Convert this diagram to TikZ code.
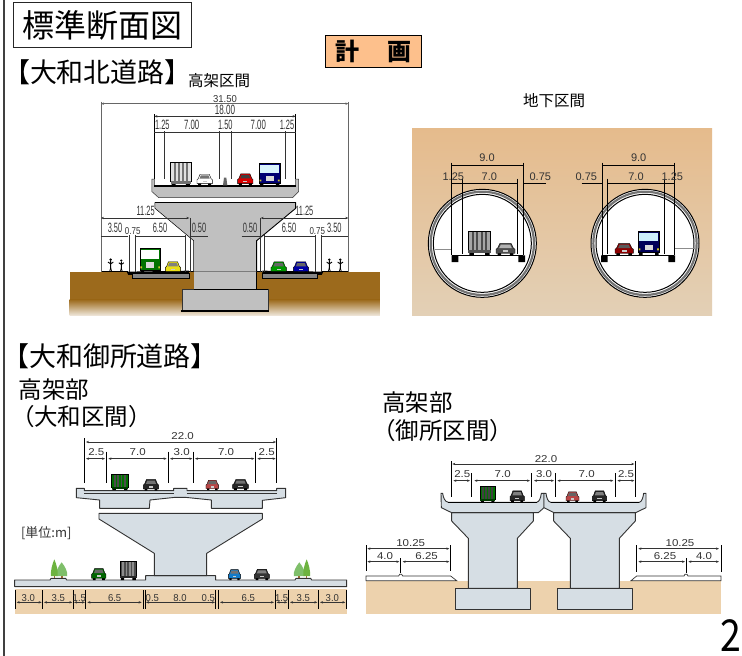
\documentclass[tikz,border=0pt]{standalone}
\usepackage{fontspec}
\usepackage{graphicx}
\setmainfont{Liberation Sans}
\newfontfamily\jp{Noto Sans CJK JP}
\usetikzlibrary{arrows.meta}
\definecolor{greyc}{HTML}{C0C0C0}
\definecolor{bluec}{HTML}{D6DEE4}
\definecolor{tan}{HTML}{EDD2AD}
\definecolor{brownc}{HTML}{9C6A1C}
\definecolor{orangec}{HTML}{FDC08C}
\definecolor{inkc}{HTML}{333333}
\definecolor{tuntop}{HTML}{E5BB8C}
\definecolor{tunbot}{HTML}{E3D0B6}
\definecolor{treea}{HTML}{6DB33F}
\definecolor{treeb}{HTML}{7FBF6A}
\tikzset{
  dimarrow/.style={<->,>={Stealth[length=3pt,width=2.4pt]},draw=inkc,line width=.55pt},
  dimplain/.style={draw=inkc,line width=.8pt},
  ext/.style={draw=black,line width=.8pt},
  greysolid/.style={fill=greyc,draw=inkc,line width=.5pt},
  bluesolid/.style={fill=bluec,draw=inkc,line width=.9pt,line join=round},
  vehline/.style={draw=black,line width=.4pt},
  txt/.style={inner sep=0pt,outer sep=0pt,anchor=center,text=black},
}
\newcount\lblc
% x y size xscale text
\newcommand\lbl[5]{\global\advance\lblc 1\node[txt,text=inkc] (lb\the\lblc) at (#1,#2) {\fontsize{#3pt}{#3pt}\selectfont\scalebox{#4}[1]{#5}};}
% car: x1 x2 y1 y2 body glass
\newcommand\carv[6]{\begin{scope}[shift={(#1,#3)},xscale={#2-#1},yscale={#4-#3}]
\fill[black] (.08,.75) rectangle (.27,1) (.73,.75) rectangle (.92,1);
\path[fill=#5,vehline] (.2,.02) -- (.8,.02) -- (.92,.42) -- (1,.5) -- (1,.85) -- (0,.85) -- (0,.5) -- (.08,.42) -- cycle;
\fill[#6] (.25,.12) -- (.75,.12) -- (.83,.4) -- (.17,.4) -- cycle;
\fill[white!80!black] (.36,.6) rectangle (.64,.75);
\end{scope}}
% large vehicle: x1 x2 y1 y2 body glass
\newcommand\busv[6]{\colorlet{vehc}{#5}\begin{scope}[shift={(#1,#3)},xscale={#2-#1},yscale={#4-#3}]
\fill[black] (.03,.82) rectangle (.2,1) (.8,.82) rectangle (.97,1);
\path[fill=vehc,vehline] (0,0) rectangle (1,.86);
\fill[#6] (.05,.07) rectangle (.95,.42);
\fill[white!85!black] (.3,.55) rectangle (.7,.78);
\fill[yellow!80!black] (.02,.72) rectangle (.1,.8) (.9,.72) rectangle (.98,.8);
\end{scope}}
% box truck: x1 x2 y1 y2 body ribs
\newcommand\boxv[6]{\colorlet{vehc}{#5}\begin{scope}[shift={(#1,#3)},xscale={#2-#1},yscale={#4-#3}]
\fill[black] (.05,.88) rectangle (.25,1) (.75,.88) rectangle (.95,1);
\path[fill=vehc,vehline] (0,0) rectangle (1,.8);
\foreach \q in {.2,.4,.6,.8} \fill[#6] (\q-.05,.03) rectangle (\q+.05,.78);
\fill[vehc!50!black] (0,.8) rectangle (1,.92);
\end{scope}}
% person: x y1 y2
\newcommand\personv[3]{\begin{scope}[shift={(#1,#2)},yscale={#3-#2},xscale={#3-#2}]
\fill[black] (0,.1) circle (.1);
\draw[black,line width=.9pt] (0,.2) -- (0,.75) (-.2,.28) -- (0,.42) -- (.2,.28);
\draw[black,line width=.7pt] (-.08,1) -- (0,.7) -- (.08,1);
\end{scope}}
% tree: x base w h colour
\newcommand\treev[5]{\begin{scope}[shift={(#1,#2)},xscale=#3,yscale=#4]
\fill[brown!80!black] (-.08,-.3) rectangle (.08,0);
\fill[#5] (0,-1) .. controls (.3,-.75) and (.6,-.4) .. (.5,-.12) -- (-.5,-.12) .. controls (-.6,-.4) and (-.3,-.75) .. (0,-1) -- cycle;
\end{scope}}
\begin{document}
\begin{tikzpicture}[x=1pt,y=-1pt]
\useasboundingbox (0,0) rectangle (742,656);
\fill[white] (0,0) rectangle (742,656);
% page frame and headings
\coordinate (fa) at (4,0); \coordinate (fb) at (4,656);
\draw[black!75,line width=2pt] (fa) -- (fb);
\node[draw=black!85,line width=1.2pt,minimum width=178pt,minimum height=45pt,inner sep=0pt,anchor=north west] (title) at (13,2) {};
\node[txt] (titlet) at (title.center) {\jp\fontsize{32pt}{32pt}\selectfont 標準断面図};
\node[draw=black,line width=1pt,fill=orangec,minimum width=96pt,minimum height=32pt,inner sep=0pt,anchor=north west] (plan) at (325,35) {};
\node[txt] (plant) at (plan.center) {\jp\bfseries\fontsize{24pt}{24pt}\selectfont 計\hspace{28pt}画};
\node[txt,anchor=west] (h1) at (3,72) {\jp\fontsize{27pt}{27pt}\selectfont 【大和北道路】};
\node[txt,anchor=west] (h1a) at (188,81) {\jp\fontsize{15.5pt}{15.5pt}\selectfont 高架区間};
\node[txt,anchor=west] (h1b) at (523,101) {\jp\fontsize{15.5pt}{15.5pt}\selectfont 地下区間};
\node[txt,anchor=west] (h2) at (2,356) {\jp\fontsize{27pt}{27pt}\selectfont 【大和御所道路】};
\node[txt,anchor=west] (h3) at (19,390) {\jp\fontsize{23.5pt}{23.5pt}\selectfont 高架部};
\node[txt,anchor=west] (h4) at (11,417) {\jp\fontsize{23.5pt}{23.5pt}\selectfont （大和区間）};
\node[txt,anchor=west] (h5) at (382,403) {\jp\fontsize{23.5pt}{23.5pt}\selectfont 高架部};
\node[txt,anchor=west] (h6) at (372,431) {\jp\fontsize{23.5pt}{23.5pt}\selectfont （御所区間）};
\node[txt,anchor=west,text=inkc] (unit) at (21,533) {\jp\fontsize{13pt}{13pt}\selectfont [単位:m]};
\node[txt] (pageno) at (731,636) {\jp\fontsize{44pt}{44pt}\selectfont\scalebox{.85}[1]{2}};

% ---------- Yamato-kita viaduct (coordinates = 3x pixels)
\begin{scope}[x=.33333pt,y=-.33333pt]
\fill[brownc] (209,815) rectangle (1140,900);
\shade[top color=brownc,bottom color=brownc!15!white] (209,899) rectangle (1140,947);
% road slabs
\fill[black] (380,815) -- (385,825) -- (398,825) -- (398,820) -- (567,820) -- (567,812) -- cycle;
\path[fill=greyc!70!black,draw=black,line width=.4pt] (398,820) rectangle (567,835);
\fill[black] (970,815) -- (965,825) -- (953,825) -- (953,820) -- (787,820) -- (787,812) -- cycle;
\path[fill=greyc!70!black,draw=black,line width=.4pt] (787,820) rectangle (953,835);
\draw[black,line width=1pt] (305,815) -- (385,815) (567,815) -- (581,815) (770,815) -- (787,815) (965,815) -- (1045,815);
% pier
\path[fill=greyc] (581,815) rectangle (770,868);
\path[greysolid] (546,868) rectangle (805,930);
\draw[black,line width=1.2pt] (543,933) -- (808,933);
\draw[black,line width=.9pt] (770,815) -- (770,868) (581,868) -- (805,868);
\draw[black,line width=.9pt] (581,815) -- (770,815);
\path[fill=greyc] (465,607) -- (887,607) -- (887,625) -- (770,722) -- (770,815) -- (581,815) -- (581,722) -- (465,625) -- cycle;
\draw[black,line width=.5pt] (465,607) -- (465,625) -- (581,722) -- (581,815);
\draw[black,line width=.9pt] (887,607) -- (887,625) -- (770,722) -- (770,815);
\draw[black,line width=1.1pt] (465,607) -- (887,607);
% deck
\path[greysolid] (456,537) -- (463,537) -- (463,558) -- (887,558) -- (887,537) -- (896,537) -- (896,575) -- (878,593) -- (476,593) -- (456,575) -- cycle;
\draw[black,line width=1.1pt] (463,558) -- (887,558);
\fill[black!60] (672,533) -- (679,533) -- (682,556) -- (669,556) -- cycle;
% dimension extension lines
\coordinate (ka) at (303,305); \coordinate (kb) at (303,815); \coordinate (kc) at (1045,305); \coordinate (kd) at (1045,815);
\draw[draw=black!60,line width=.7pt] (ka) -- (kb) (kc) -- (kd);
\draw[dimarrow,draw=black!60] (303,311) -- (1045,311);
\draw[ext] (463,343) -- (463,537) (887,343) -- (887,537);
\draw[dimarrow,line width=.8pt] (463,349) -- (887,349);
\draw[dimplain] (463,398) -- (887,398);
\draw[ext,draw=inkc] (492,394) -- (492,537) (658,394) -- (658,537) (693,394) -- (693,537) (857,394) -- (857,537);
\draw[dimarrow,line width=.8pt] (303,654) -- (568,654);
\draw[dimarrow,line width=.8pt] (782,654) -- (1045,654);
\draw[dimplain] (303,710) -- (385,710) (405,710) -- (556,710) (570,710) -- (625,710) (725,710) -- (780,710) (792,710) -- (945,710) (965,710) -- (1045,710);
\draw[ext,draw=inkc] (388,706) -- (388,815) (405,706) -- (405,815) (556,706) -- (556,815) (570,654) -- (570,815)
  (780,654) -- (780,815) (792,706) -- (792,815) (945,706) -- (945,815) (965,706) -- (965,815);
% vehicles
\boxv{512}{573}{488}{558}{white!88!black}{black!55}
\carv{591}{637}{522}{556}{white}{black!55}
\carv{713}{759}{521}{556}{red!85!black}{black!75}
\busv{778}{840}{489}{558}{blue!45!black}{cyan!15!white}
\busv{420}{481}{745}{820}{green!45!black}{white}
\carv{496}{542}{785}{820}{yellow!90!black}{black!50}
\carv{813}{859}{785}{820}{green!60!black}{black!60}
\carv{880}{926}{785}{820}{blue!65!black}{black!60}
\personv{332}{775}{815}\personv{364}{778}{815}\personv{988}{775}{815}\personv{1021}{775}{815}
% labels
\lbl{675}{296}{10}{.95}{31.50}
\lbl{675}{331}{13.5}{.6}{18.00}
\lbl{487}{374}{13.5}{.55}{1.25}\lbl{575}{374}{13.5}{.58}{7.00}\lbl{676}{374}{13.5}{.55}{1.50}\lbl{775}{374}{13.5}{.58}{7.00}\lbl{861}{374}{13.5}{.55}{1.25}
\lbl{437}{633}{13.5}{.55}{11.25}\lbl{913}{633}{13.5}{.55}{11.25}
\lbl{345}{685}{13.5}{.55}{3.50}\lbl{398}{692}{10}{.8}{0.75}\lbl{480}{685}{13.5}{.55}{6.50}\lbl{597}{685}{13.5}{.55}{0.50}
\lbl{750}{685}{13.5}{.55}{0.50}\lbl{867}{685}{13.5}{.55}{6.50}\lbl{952}{692}{10}{.8}{0.75}\lbl{1003}{685}{13.5}{.55}{3.50}
\end{scope}

% ---------- Tunnels
\begin{scope}[shift={(400pt,-80pt)},x=.33333pt,y=-.33333pt]
\shade[top color=tuntop,bottom color=tunbot] (36,144) rectangle (936,705);
\foreach \cx in {247,735} {
  \path[fill=white,draw=black,line width=1pt] (\cx,490) circle (162);
  \draw[black!55,line width=2.2pt] (\cx,490) circle (155);
  \draw[black,line width=1pt] (\cx,490) circle (147);
}
\draw[black!45,line width=.7pt] (105,507) -- (155,507) (825,505) -- (885,505);
\draw[black,line width=1pt] (155,526) -- (370,526) (607,526) -- (823,526);
\fill[black] (155,526) rectangle (175,546) (355,526) rectangle (375,546) (603,526) rectangle (623,546) (805,526) rectangle (825,546);
\draw[ext,line width=1pt] (155,248) -- (155,526) (370,248) -- (370,526) (187,296) -- (187,522) (353,296) -- (353,522);
\draw[ext,line width=1pt] (607,248) -- (607,526) (823,248) -- (823,526) (623,296) -- (623,522) (793,296) -- (793,522);
\draw[dimplain,draw=black,line width=1pt] (155,256) -- (370,256) (155,310) -- (353,310) (370,310) -- (437,310);
\draw[dimplain,draw=black,line width=1pt] (607,256) -- (823,256) (623,310) -- (823,310) (545,310) -- (607,310);
\boxv{205}{272}{453}{525}{black!35}{black!70}
\carv{288}{345}{490}{525}{black!70}{black!30}
\carv{645}{700}{490}{525}{red!55!black}{black!65}
\busv{715}{778}{455}{525}{blue!35!black}{cyan!20!white}
\lbl{261}{234}{11}{1}{9.0}\lbl{268}{291}{11}{1}{7.0}\lbl{160}{291}{11}{1}{1.25}\lbl{421}{291}{11}{1}{0.75}
\lbl{716}{234}{11}{1}{9.0}\lbl{708}{291}{11}{1}{7.0}\lbl{817}{291}{11}{1}{1.25}\lbl{559}{291}{11}{1}{0.75}
\end{scope}

% ---------- Yamato viaduct
\begin{scope}[shift={(0pt,-420pt)},x=.33333pt,y=-.33333pt]
\fill[tan] (44,508) rectangle (1040,582);
\path[bluesolid] (44,480) -- (150,480) -- (153,475) -- (197,475) -- (200,480) -- (437,480) -- (437,467) -- (647,467) -- (647,480) -- (885,480) -- (888,475) -- (932,475) -- (935,480) -- (1040,480) -- (1040,500) -- (44,500) -- cycle;
\path[bluesolid] (297,280) -- (787,280) -- (787,297) -- (620,400) -- (620,467) -- (463,467) -- (463,400) -- (297,297) -- cycle;
\path[bluesolid] (229,205) -- (253,205) -- (253,212) -- (521,212) -- (521,205) -- (561,205) -- (561,212) -- (830,212) -- (830,205) -- (857,205) -- (857,233) -- (787,241) -- (787,265) -- (634,265) -- (634,240) -- (556,232) -- (525,232) -- (450,240) -- (448,265) -- (299,265) -- (299,240) -- (229,233) -- cycle;
\draw[inkc,line width=.5pt] (253,220) -- (521,220) (561,220) -- (830,220);
\treev{185}{474}{32}{47}{treeb}\treev{163}{475}{20}{57}{treea}
\treev{898}{474}{32}{47}{treeb}\treev{920}{475}{20}{57}{treea}
\boxv{335}{385}{163}{210}{green!45!black}{black!70}
\carv{430}{476}{178}{212}{black!85}{black!55}
\carv{618}{656}{180}{210}{red!45!gray}{black!60}
\carv{698}{745}{178}{210}{black!85}{black!55}
\carv{275}{318}{445}{480}{green!40!black}{black!60}
\boxv{360}{410}{423}{480}{black!70}{black!45}
\carv{685}{722}{448}{480}{cyan!60!blue}{black!55}
\carv{763}{808}{447}{480}{black!80}{black!50}
\draw[ext] (254,55) -- (254,188) (830,55) -- (830,188) (318,95) -- (318,188) (505,95) -- (505,188) (580,95) -- (580,188) (767,95) -- (767,188);
\draw[dimarrow] (258,66) -- (828,66);
\draw[dimarrow] (258,116) -- (315,116);\draw[dimarrow] (325,116) -- (500,116);\draw[dimarrow] (510,116) -- (577,116);\draw[dimarrow] (585,116) -- (763,116);\draw[dimarrow] (772,116) -- (827,116);
\foreach \q in {47,128,220,257,430,436,647,655,826,865,955,1038} {\draw[ext] (\q,510) -- (\q,566);}
\draw[dimarrow] (50,547) -- (125,547);\draw[dimarrow] (132,547) -- (217,547);\draw[dimarrow] (222,547) -- (255,547);\draw[dimarrow] (262,547) -- (425,547);
\draw[dimarrow] (438,547) -- (645,547);\draw[dimarrow] (660,547) -- (822,547);\draw[dimarrow] (830,547) -- (862,547);\draw[dimarrow] (870,547) -- (952,547);\draw[dimarrow] (960,547) -- (1036,547);
\lbl{548}{47}{10}{1.15}{22.0}
\lbl{289}{97}{10}{1.15}{2.5}\lbl{413}{97}{10}{1.15}{7.0}\lbl{545}{97}{10}{1.15}{3.0}\lbl{678}{97}{10}{1.15}{7.0}\lbl{800}{97}{10}{1.15}{2.5}
\lbl{85}{533}{10}{.95}{3.0}\lbl{175}{533}{10}{.95}{3.5}\lbl{238}{533}{10}{.95}{1.5}\lbl{344}{533}{10}{.95}{6.5}\lbl{457}{533}{10}{.95}{0.5}\lbl{540}{533}{10}{.95}{8.0}\lbl{625}{533}{10}{.95}{0.5}\lbl{745}{533}{10}{.95}{6.5}\lbl{845}{533}{10}{.95}{1.5}\lbl{910}{533}{10}{.95}{3.5}\lbl{997}{533}{10}{.95}{3.0}
\end{scope}

% ---------- Gose viaduct
\begin{scope}[shift={(360pt,-440pt)},x=.33333pt,y=-.33333pt]
\fill[tan] (18,423) rectangle (1083,522);
\path[fill=white,draw=inkc,line width=.7pt] (18,422) -- (18,408) -- (116,408) -- (119,403) -- (125,403) -- (128,408) -- (272,408) -- (290,422) -- cycle;
\path[fill=white,draw=inkc,line width=.7pt] (1083,422) -- (1083,408) -- (984,408) -- (981,403) -- (975,403) -- (972,408) -- (830,408) -- (813,422) -- cycle;
\foreach \dx in {0,306} {
  \begin{scope}[shift={(\dx,0)}]
  \path[bluesolid] (285,445) rectangle (512,508);
  \path[bluesolid] (275,218) -- (520,218) -- (520,243) -- (472,295) -- (472,445) -- (325,445) -- (325,295) -- (275,243) -- cycle;
  \end{scope}
}
\path[bluesolid] (243,160) -- (248,160) .. controls (250,175) and (255,185) .. (265,187) -- (530,187) .. controls (538,185) and (542,175) .. (544,160) -- (552,160) -- (552,203) -- (535,218) -- (275,218) -- (244,203) -- cycle;
\path[bluesolid] (552,160) -- (558,160) .. controls (560,175) and (564,185) .. (572,187) -- (838,187) .. controls (845,185) and (849,175) .. (851,160) -- (858,160) -- (858,203) -- (827,218) -- (582,218) -- (552,203) -- cycle;
\draw[black,line width=1.2pt] (265,187) -- (530,187) (572,187) -- (838,187);
\boxv{360}{405}{140}{187}{green!45!black}{black!75}
\carv{450}{493}{152}{187}{black!85}{black!50}
\carv{618}{657}{155}{187}{red!45!gray}{black!60}
\carv{697}{740}{152}{187}{black!85}{black!50}
\draw[ext] (273,63) -- (273,170) (827,63) -- (827,170) (335,100) -- (335,170) (515,100) -- (515,170) (587,100) -- (587,170) (765,100) -- (765,170);
\draw[dimarrow] (277,72) -- (823,72);
\draw[dimarrow] (280,122) -- (330,122);\draw[dimarrow] (343,122) -- (510,122);\draw[dimarrow] (522,122) -- (582,122);\draw[dimarrow] (592,122) -- (760,122);\draw[dimarrow] (772,122) -- (823,122);
\draw[ext] (20,315) -- (20,392) (272,315) -- (272,392) (122,355) -- (122,400);
\draw[dimarrow] (22,326) -- (268,326);\draw[dimarrow] (22,365) -- (118,365);\draw[dimarrow] (128,365) -- (268,365);
\draw[ext] (830,315) -- (830,395) (1083,315) -- (1083,395) (978,355) -- (978,400);
\draw[dimarrow] (835,326) -- (1077,326);\draw[dimarrow] (835,365) -- (975,365);\draw[dimarrow] (985,365) -- (1077,365);
\lbl{558}{57}{10}{1.15}{22.0}
\lbl{307}{103}{10}{1.15}{2.5}\lbl{428}{103}{10}{1.15}{7.0}\lbl{552}{103}{10}{1.15}{3.0}\lbl{680}{103}{10}{1.15}{7.0}\lbl{798}{103}{10}{1.15}{2.5}
\lbl{152}{308}{10}{1.15}{10.25}\lbl{75}{348}{10}{1.15}{4.0}\lbl{200}{348}{10}{1.15}{6.25}
\lbl{960}{308}{10}{1.15}{10.25}\lbl{915}{348}{10}{1.15}{6.25}\lbl{1032}{348}{10}{1.15}{4.0}
\end{scope}
\end{tikzpicture}
\end{document}
